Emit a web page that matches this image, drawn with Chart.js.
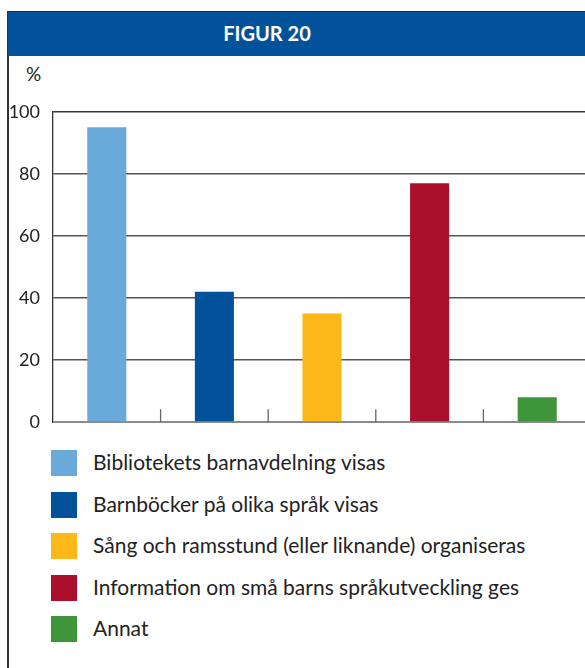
<!DOCTYPE html>
<html>
<head>
<meta charset="utf-8">
<script src="https://cdn.jsdelivr.net/npm/chart.js@4"></script>
<style>
  html, body { margin: 0; padding: 0; background: #fff; }
  body { width: 585px; height: 668px; overflow: hidden; position: relative; font-family: Lato, "Open Sans", sans-serif; }
  #frame { position: absolute; left: 7px; top: 11px; width: 1.5px; height: 660px; background: #333; }
  #header { position: absolute; left: 8px; top: 11px; width: 600px; height: 44px; background: #02529b; border-top: 1px solid #1c2e4a; }
  #header span { position: absolute; left: 259px; transform: translateX(-50%); top: 9px; color: #fff; font-weight: bold; font-size: 20px; }
  #unit { position: absolute; left: 26px; top: 62px; font-size: 19px; color: #222; }
  #chart { position: absolute; left: 0; top: 88px; }
  #legend { position: absolute; left: 51px; top: 450px; }
  .item { position: relative; height: 26px; margin-bottom: 15.5px; }
  .box { position: absolute; left: 0; top: 0; width: 26px; height: 26px; }
  .label { position: absolute; left: 42px; top: -1px; font-size: 21px; line-height: 26px; color: #222; white-space: nowrap; }
</style>
</head>
<body>
<div id="frame"></div>
<div id="header"><span>FIGUR 20</span></div>
<div id="unit">%</div>
<canvas id="chart" width="600" height="358"></canvas>
<div id="legend"></div>
<script>
var categories = [
    "Bibliotekets barnavdelning visas",
    "Barnböcker på olika språk visas",
    "Sång och ramsstund (eller liknande) organiseras",
    "Information om små barns språkutveckling ges",
    "Annat"
];
var values = [95, 42, 35, 77, 8];
var barColors = ["#6aaadb", "#02529b", "#fbb818", "#aa102c", "#3f963a"];
var yTicks = [0, 20, 40, 60, 80, 100];

// build legend from the same arrays
var legend = document.getElementById("legend");
categories.forEach(function (name, i) {
    var item = document.createElement("div");
    item.className = "item";
    var box = document.createElement("div");
    box.className = "box";
    box.style.background = barColors[i];
    var label = document.createElement("div");
    label.className = "label";
    label.innerText = name;
    item.appendChild(box);
    item.appendChild(label);
    legend.appendChild(item);
});

// short tick marks between categories, pointing up from the baseline
var innerTicks = {
    id: "innerTicks",
    afterDatasetsDraw: function (chart) {
        var x = chart.scales.x;
        var ctx = chart.ctx;
        var bottom = chart.chartArea.bottom;
        ctx.save();
        ctx.strokeStyle = "#666";
        ctx.lineWidth = 1.3;
        for (var i = 0; i < categories.length - 1; i++) {
            var px = (x.getPixelForValue(i) + x.getPixelForValue(i + 1)) / 2;
            ctx.beginPath();
            ctx.moveTo(px, bottom);
            ctx.lineTo(px, bottom - 13);
            ctx.stroke();
        }
        ctx.restore();
    }
};

new Chart(document.getElementById("chart"), {
    type: "bar",
    data: {
        labels: categories,
        datasets: [{
            data: values,
            backgroundColor: barColors,
            barPercentage: 0.363,
            categoryPercentage: 1.0
        }]
    },
    options: {
        responsive: false,
        animation: false,
        layout: { padding: { top: 0, right: 9, bottom: 13, left: 0 } },
        plugins: {
            legend: { display: false },
            tooltip: { enabled: false }
        },
        scales: {
            x: {
                offset: true,
                grid: { display: false },
                border: { display: false },
                ticks: { display: false },
                afterFit: function (s) { s.height = 0; }
            },
            y: {
                min: 0,
                max: 100,
                afterBuildTicks: function (s) {
                    s.ticks = yTicks.map(function (v) { return { value: v }; });
                },
                afterFit: function (s) { s.width = 53; },
                border: { display: true, color: "#333", width: 1.3 },
                grid: {
                    drawTicks: false,
                    lineWidth: function (c) { return c.tick.value === 0 ? 2 : 1.5; },
                    color: function (c) {
                        if (c.tick.value === 0) return "#8a8a8a";
                        if (c.tick.value === 100) return "#333";
                        return "#555";
                    }
                },
                ticks: {
                    padding: 13,
                    color: "#222",
                    font: { family: "Lato", size: 18 }
                }
            }
        }
    },
    plugins: [innerTicks]
});
</script>
</body>
</html>
